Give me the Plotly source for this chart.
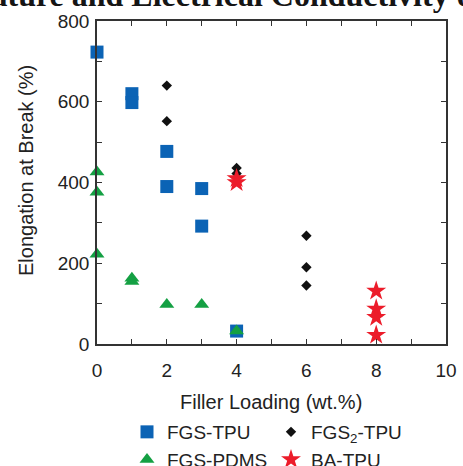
import plotly.graph_objects as go

# Elongation at break (%) vs filler loading (wt.%)
fgs_tpu_x = [0, 1, 1, 2, 2, 3, 3, 4]
fgs_tpu_y = [723, 620, 598, 477, 390, 385, 292, 32]

fgs2_tpu_x = [2, 2, 4, 4, 6, 6, 6]
fgs2_tpu_y = [640, 552, 436, 422, 268, 190, 145]

fgs_pdms_x = [0, 0, 0, 1, 1, 2, 3, 4]
fgs_pdms_y = [426, 376, 222, 163, 155, 98, 98, 32]

ba_tpu_x = [4, 4, 8, 8, 8, 8]
ba_tpu_y = [410, 400, 131, 87, 66, 22]

x_ticks = [0, 2, 4, 6, 8, 10]
y_ticks = [0, 200, 400, 600, 800]

W, H = 463, 466
ML, MR, MT, MB = 97, 17, 21, 122
PW, PH = W - ML - MR, H - MT - MB


def px_x(p):
    return (p - ML) / PW


def px_y(p):
    return (H - MB - p) / PH


BLUE = "#0b63b5"
BLACK = "#111111"
GREEN = "#14a043"
RED = "#ec1c2a"
AXIS = "#333333"
FONT = "Liberation Sans"

fig = go.Figure()
fig.add_trace(go.Scatter(
    x=fgs_tpu_x, y=fgs_tpu_y, mode="markers", name="FGS-TPU",
    marker=dict(symbol="square", size=13, color=BLUE), cliponaxis=False))
fig.add_trace(go.Scatter(
    x=fgs2_tpu_x, y=fgs2_tpu_y, mode="markers", name="FGS<sub>2</sub>-TPU",
    marker=dict(symbol="diamond", size=8, color=BLACK), cliponaxis=False))
fig.add_trace(go.Scatter(
    x=fgs_pdms_x, y=fgs_pdms_y, mode="markers", name="FGS-PDMS",
    marker=dict(symbol="triangle-up", size=13, color=GREEN), cliponaxis=False))
fig.add_trace(go.Scatter(
    x=ba_tpu_x, y=ba_tpu_y, mode="markers", name="BA-TPU",
    marker=dict(symbol="star", size=15, color=RED), cliponaxis=False))

axis_common = dict(
    showgrid=False, zeroline=False, showline=True, linecolor=AXIS, linewidth=1.5,
    mirror="ticks", ticks="inside", ticklen=5, tickwidth=1.2, tickcolor=AXIS,
    tickfont=dict(family=FONT, size=19, color="#222222"),
)

fig.update_xaxes(
    range=[0, 10], tickvals=x_ticks, ticktext=[str(v) for v in x_ticks],
    ticklabelstandoff=8,
    minor=dict(dtick=1, ticks="inside", ticklen=5, tickwidth=1.2, tickcolor=AXIS),
    **axis_common)
fig.update_yaxes(
    range=[0, 800], tickvals=y_ticks, ticktext=[str(v) for v in y_ticks],
    ticklabelstandoff=2,
    minor=dict(dtick=100, ticks="inside", ticklen=5, tickwidth=1.2, tickcolor=AXIS),
    **axis_common)

annotations = [
    # Bold serif heading line running across the top edge
    dict(text="<b>Temperature and Electrical Conductivity of</b>", xref="paper", yref="paper",
         x=px_x(-116), y=px_y(15), xanchor="left", yanchor="bottom", showarrow=False,
         font=dict(family="Liberation Serif", size=32, color="#151515")),
    dict(text="Elongation at Break (%)", xref="paper", yref="paper",
         x=px_x(26), y=px_y(171), xanchor="center", yanchor="middle", showarrow=False,
         textangle=-90, font=dict(family=FONT, size=20, color="#222222")),
    dict(text="Filler Loading (wt.%)", xref="paper", yref="paper",
         x=px_x(271), y=px_y(402), xanchor="center", yanchor="middle", showarrow=False,
         font=dict(family=FONT, size=20, color="#222222")),
]

fig.update_layout(
    width=W, height=H,
    margin=dict(l=ML, r=MR, t=MT, b=MB, pad=0, autoexpand=False),
    paper_bgcolor="white", plot_bgcolor="white",
    showlegend=True,
    legend=dict(
        orientation="h", x=px_x(127), y=px_y(413), xanchor="left", yanchor="top",
        entrywidth=99, entrywidthmode="pixels",
        font=dict(family=FONT, size=19, color="#222222"),
        bgcolor="rgba(0,0,0,0)", itemclick=False, itemdoubleclick=False,
        tracegroupgap=0,
    ),
    annotations=annotations,
)

fig.write_html("out.html")
